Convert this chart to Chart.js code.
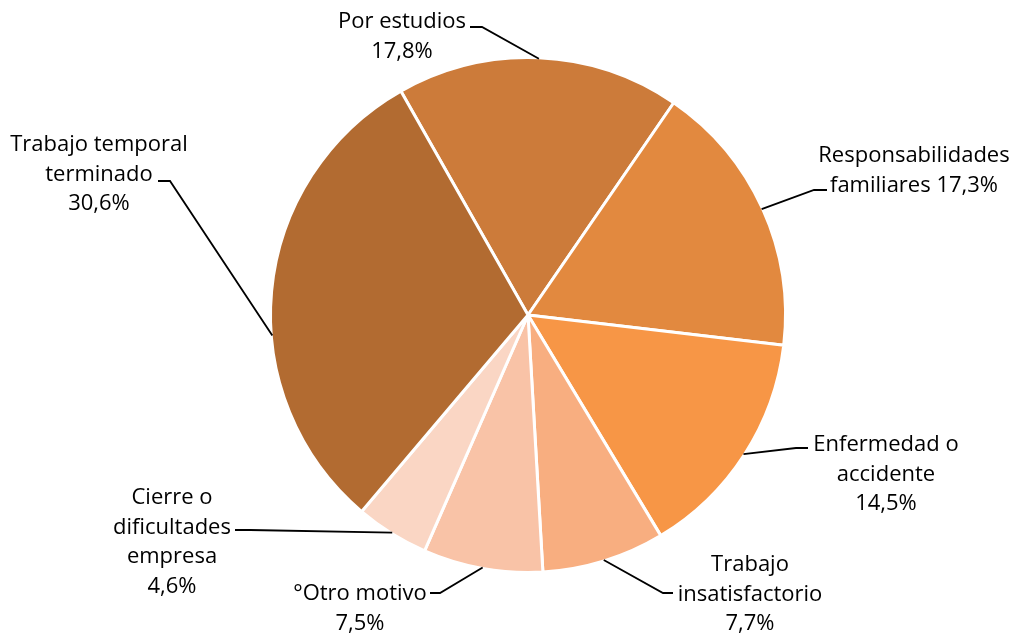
<!DOCTYPE html>
<html lang="es">
<head>
<meta charset="UTF-8">
<title>Motivos</title>
<script src="https://cdn.jsdelivr.net/npm/chart.js"></script>
<style>
  html, body { margin: 0; padding: 0; background: #fff; }
  #wrap { position: relative; width: 1013px; height: 635px; }
</style>
</head>
<body>
<div id="wrap"><canvas id="pie"></canvas></div>
<script>
// Datos
const categories = ['Por estudios', 'Responsabilidades familiares', 'Enfermedad o accidente',
  'Trabajo insatisfactorio', '°Otro motivo', 'Cierre o dificultades empresa', 'Trabajo temporal terminado'];
const values = [17.8, 17.3, 14.5, 7.7, 7.5, 4.6, 30.6];
const colors = ['#CC7B3A', '#E2893F', '#F79646', '#F8AE80', '#F9C3A7', '#FAD6C4', '#B26B31'];

// Rotura de líneas de cada etiqueta ({v} = porcentaje)
const labelLines = [
  ['Por estudios', '{v}'],
  ['Responsabilidades', 'familiares {v}'],
  ['Enfermedad o', 'accidente', '{v}'],
  ['Trabajo', 'insatisfactorio', '{v}'],
  ['°Otro motivo', '{v}'],
  ['Cierre o', 'dificultades', 'empresa', '{v}'],
  ['Trabajo temporal', 'terminado', '{v}']
];

// Posición de las etiquetas y codos de las líneas guía (en píxeles)
const labelLayout = [
  { x: 402, y: 22, start: [470, 27], elbow: [482, 27], frac: 0.5 },
  { x: 914, y: 156, start: [827, 190], elbow: [814, 190], frac: 0.5 },
  { x: 886, y: 445, start: [808, 448], elbow: [796, 448], frac: 0.5 },
  { x: 750, y: 565, start: [673, 593], elbow: [663, 593], frac: 0.5 },
  { x: 360, y: 594, start: [430, 593], elbow: [440, 593], frac: 0.5 },
  { x: 172, y: 498, start: [235, 530], elbow: [250, 530], frac: 0.5 },
  { x: 99, y: 145, start: [158, 181], elbow: [170, 181], frac: 0.41 }
];

const fmt = v => v.toFixed(1).replace('.', ',') + '%';

const outsideLabels = {
  id: 'outsideLabels',
  afterDatasetsDraw(chart) {
    const ctx = chart.ctx;
    const meta = chart.getDatasetMeta(0);
    ctx.save();
    meta.data.forEach((arc, i) => {
      const p = arc.getProps(['x', 'y', 'startAngle', 'endAngle', 'outerRadius'], true);
      const L = labelLayout[i];
      const a = p.startAngle + (p.endAngle - p.startAngle) * L.frac;
      const ex = p.x + Math.cos(a) * (p.outerRadius - 1);
      const ey = p.y + Math.sin(a) * (p.outerRadius - 1);

      ctx.strokeStyle = '#000';
      ctx.lineWidth = 1.8;
      ctx.beginPath();
      ctx.moveTo(L.start[0], L.start[1]);
      ctx.lineTo(L.elbow[0], L.elbow[1]);
      ctx.lineTo(ex, ey);
      ctx.stroke();

      ctx.fillStyle = '#000';
      ctx.font = '22px "Open Sans", sans-serif';
      ctx.textAlign = 'center';
      ctx.textBaseline = 'middle';
      labelLines[i].forEach((t, k) => {
        ctx.fillText(t.replace('{v}', fmt(values[i])), L.x, L.y + k * 29.5);
      });
    });
    ctx.restore();
  }
};

new Chart(document.getElementById('pie'), {
  type: 'pie',
  data: {
    labels: categories,
    datasets: [{
      data: values,
      backgroundColor: colors,
      borderColor: '#ffffff',
      borderWidth: 3
    }]
  },
  options: {
    responsive: true,
    maintainAspectRatio: false,
    animation: false,
    rotation: -29.6,
    layout: { padding: { top: 56, bottom: 61, left: 269, right: 226 } },
    plugins: {
      legend: { display: false },
      tooltip: { enabled: false }
    }
  },
  plugins: [outsideLabels]
});
</script>
</body>
</html>
